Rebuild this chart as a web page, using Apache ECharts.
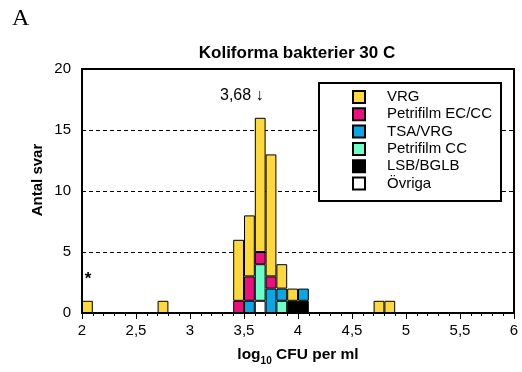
<!DOCTYPE html>
<html><head><meta charset="utf-8">
<script src="https://cdn.jsdelivr.net/npm/echarts@6/dist/echarts.min.js"></script>
<style>html,body{margin:0;padding:0;background:#fff}#c{width:522px;height:372px}</style>
</head><body><div id="c"></div>
<script>
// bin start values (log10 CFU per ml), bin width 0.1
var binStarts = [2.0, 2.7, 3.4, 3.5, 3.6, 3.7, 3.8, 3.9, 4.0, 4.7, 4.8];
var vrg        = [1, 1, 5, 5, 11, 10, 2, 1, 0, 1, 1];
var petriECCC  = [0, 0, 1, 2, 1, 1, 0, 0, 0, 0, 0];
var tsaVrg     = [0, 0, 0, 1, 0, 2, 1, 0, 1, 0, 0];
var petriCC    = [0, 0, 0, 0, 3, 0, 1, 0, 0, 0, 0];
var lsbBglb    = [0, 0, 0, 0, 0, 0, 0, 1, 1, 0, 0];
var ovriga     = [0, 0, 0, 0, 1, 0, 0, 0, 0, 0, 0];
var xTickValues = [2, 2.5, 3, 3.5, 4, 4.5, 5, 5.5, 6];
var xTickLabels = ['2', '2,5', '3', '3,5', '4', '4,5', '5', '5,5', '6'];
var yTickLabels = ['0', '5', '10', '15', '20'];
var xMin = 2, xMax = 6, binWidth = 0.1;

var seriesDefs = [
  {name: 'Övriga', data: ovriga, color: '#ffffff'},
  {name: 'LSB/BGLB', data: lsbBglb, color: '#000000'},
  {name: 'Petrifilm CC', data: petriCC, color: '#6CFFC8'},
  {name: 'TSA/VRG', data: tsaVrg, color: '#0AA6E6'},
  {name: 'Petrifilm EC/CC', data: petriECCC, color: '#EC0F7E'},
  {name: 'VRG', data: vrg, color: '#FFD83C'}
];
var legendOrder = ['VRG', 'Petrifilm EC/CC', 'TSA/VRG', 'Petrifilm CC', 'LSB/BGLB', 'Övriga'];

// all histogram bins across the axis (category names for the hidden bar axis)
var nBins = Math.round((xMax - xMin) / binWidth);
var binNames = [];
for (var k = 0; k < nBins; k++) binNames.push((xMin + k * binWidth).toFixed(1));

var FONT = '"Liberation Sans", Arial, sans-serif';
var chart = echarts.init(document.getElementById('c'), null, {renderer: 'canvas'});

var series = seriesDefs.map(function (s) {
  var d = binNames.map(function () { return '-'; });
  binStarts.forEach(function (b, i) {
    var idx = binNames.indexOf(b.toFixed(1));
    if (idx >= 0 && s.data[i] > 0) d[idx] = s.data[i];
  });
  return {
    name: s.name, type: 'bar', stack: 'all', xAxisIndex: 0, barWidth: '100%',
    data: d,
    itemStyle: {color: s.color, borderColor: '#000', borderWidth: 1},
    emphasis: {disabled: true}, animation: false
  };
});

chart.setOption({
  animation: false,
  grid: {left: 82, right: 8, top: 69, bottom: 59,
         show: true, borderColor: '#000', borderWidth: 2, backgroundColor: 'transparent'},
  xAxis: [{
    type: 'category', data: binNames, boundaryGap: true, show: false
  }, {
    type: 'value', min: xMin, max: xMax, interval: 0.5, position: 'bottom',
    axisLine: {show: true, lineStyle: {color: '#000', width: 2}},
    axisTick: {show: true, length: 6, lineStyle: {color: '#000', width: 1}},
    minorTick: {show: true, splitNumber: 5, length: 3, lineStyle: {color: '#000', width: 1}},
    splitLine: {show: false},
    axisLabel: {color: '#000', fontFamily: FONT, fontSize: 15, margin: 10,
      formatter: function (v) { var i = xTickValues.indexOf(+v.toFixed(2)); return i >= 0 ? xTickLabels[i] : ''; }},
    name: '{a|log}{s|10}{a| CFU per ml}', nameLocation: 'middle', nameGap: 31,
    nameTextStyle: {rich: {
      a: {fontFamily: FONT, fontSize: 15.5, fontWeight: 'bold', color: '#000'},
      s: {fontFamily: FONT, fontSize: 10, fontWeight: 'bold', color: '#000', padding: [12, 0, 0, 0]}
    }}
  }],
  yAxis: {
    type: 'value', min: 0, max: 20, interval: 5,
    axisLine: {show: true, lineStyle: {color: '#000', width: 2}},
    axisTick: {show: false},
    splitLine: {show: true, lineStyle: {color: '#000', width: 1, type: [4, 3]}},
    axisLabel: {color: '#000', fontFamily: FONT, fontSize: 15, margin: 11,
      formatter: function (v) { return yTickLabels[Math.round(v / 5)]; }}
  },
  legend: {
    data: legendOrder, orient: 'vertical', left: 352, top: 88.5, z: 6, padding: 0,
    itemWidth: 12, itemHeight: 12, itemGap: 0.3, icon: 'rect',
    itemStyle: {borderColor: '#000', borderWidth: 2},
    textStyle: {fontFamily: FONT, fontSize: 15, lineHeight: 17, color: '#000', padding: [0, 0, 0, 17]},
    selectedMode: false
  },
  graphic: [
    {type: 'rect', left: 318, top: 82, z: 5, shape: {width: 182, height: 118},
     style: {fill: '#fff', stroke: '#000', lineWidth: 2}},
    {type: 'text', left: 12, top: 7, style: {text: 'A', font: '24px "Liberation Serif", serif', fill: '#000'}},
    {type: 'text', x: 297, y: 53, style: {text: 'Koliforma bakterier 30 C', font: 'bold 17px ' + FONT,
      fill: '#000', textAlign: 'center', textVerticalAlign: 'middle'}},
    {type: 'text', x: 38, y: 180, rotation: Math.PI / 2, style: {text: 'Antal svar', font: 'bold 15px ' + FONT,
      fill: '#000', textAlign: 'center', textVerticalAlign: 'middle'}},
    {type: 'text', x: 220, y: 96, style: {text: '3,68 ↓', font: '16px ' + FONT,
      fill: '#000', textAlign: 'left', textVerticalAlign: 'middle'}},
    {type: 'text', x: 88, y: 279, style: {text: '*', font: 'bold 17px ' + FONT,
      fill: '#000', textAlign: 'center', textVerticalAlign: 'middle'}}
  ],
  series: series
});
</script></body></html>
